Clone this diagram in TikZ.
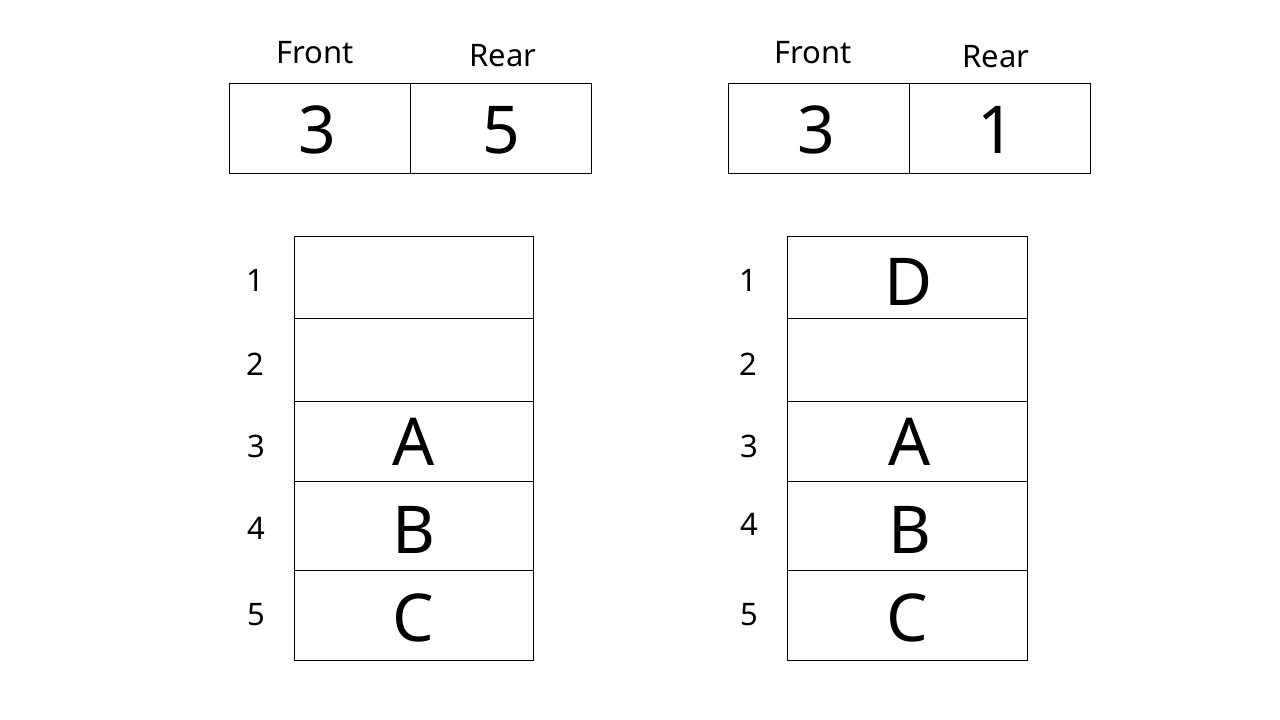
\documentclass[tikz,border=0pt]{standalone}
\usepackage{fontspec}
\setmainfont{Noto Sans}
\usetikzlibrary{positioning}

\begin{document}
\begin{tikzpicture}[x=1pt, y=-1pt, line width=1pt,
    big/.style={anchor=base, inner sep=0pt, font=\fontsize{66}{70}\selectfont},
    small/.style={anchor=base, inner sep=0pt, font=\fontsize{31}{36}\selectfont}]
            \useasboundingbox (0, 0) rectangle (1280, 720);

            %%%%%%%%
            % left picture
            %%%%%%%%

            % draw front / rear box
            \draw (229, 83) rectangle (591, 173);
            \draw (410, 83) -- (410, 173);
            \node[small] (lfronttxt) at (315, 63) {Front};
            \node[small] (lreartxt) at (503, 66) {Rear};
            \node[big] (lfront) at (317, 153) {3};
            \node[big] (lrear) at (501, 153) {5};

            % draw queue cells
            \draw (294, 236) rectangle (533, 318);
            \draw (294, 318) rectangle (533, 401);
            \draw (294, 401) rectangle (533, 481);
            \draw (294, 481) rectangle (533, 570);
            \draw (294, 570) rectangle (533, 660);
            \node[big] (la) at (414, 465) {A};
            \node[big] (lb) at (414, 553) {B};
            \node[big] (lc) at (413, 641) {C};

            % draw slot numbers
            \node[small] (lone) at (255, 291) {1};
            \node[small] (ltwo) at (255, 375) {2};
            \node[small] (lthree) at (256, 457) {3};
            \node[small] (lfour) at (256, 539) {4};
            \node[small] (lfive) at (256, 625) {5};

            %%%%%%%%
            % right picture
            %%%%%%%%

            % draw front / rear box
            \draw (728, 83) rectangle (1090, 173);
            \draw (909, 83) -- (909, 173);
            \node[small] (rfronttxt) at (813, 63) {Front};
            \node[small] (rreartxt) at (996, 67) {Rear};
            \node[big] (rfront) at (816, 153) {3};
            \node[big] (rrear) at (996, 153) {1};

            % draw queue cells
            \draw (787, 236) rectangle (1027, 318);
            \draw (787, 318) rectangle (1027, 401);
            \draw (787, 401) rectangle (1027, 481);
            \draw (787, 481) rectangle (1027, 570);
            \draw (787, 570) rectangle (1027, 660);
            \node[big] (rd) at (909, 305) {D};
            \node[big] (ra) at (910, 465) {A};
            \node[big] (rb) at (910, 553) {B};
            \node[big] (rc) at (907, 641) {C};

            % draw slot numbers
            \node[small] (rone) at (748, 291) {1};
            \node[small] (rtwo) at (748, 375) {2};
            \node[small] (rthree) at (749, 457) {3};
            \node[small] (rfour) at (749, 535) {4};
            \node[small] (rfive) at (749, 625) {5};
\end{tikzpicture}
\end{document}
